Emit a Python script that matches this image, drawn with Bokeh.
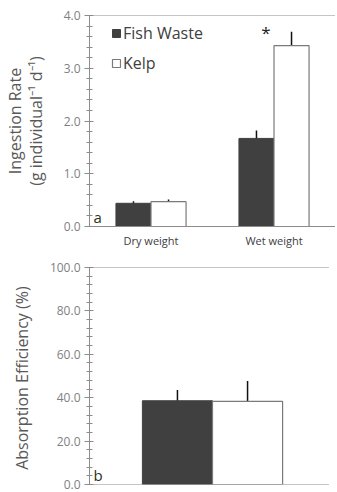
from bokeh.plotting import figure
from bokeh.models import (FactorRange, Range1d, ColumnDataSource, Whisker, Legend, LegendItem,
                          Span, Label, NumeralTickFormatter, SingleIntervalTicker)
from bokeh.transform import dodge
from bokeh.layouts import column
from bokeh.core.properties import value
from bokeh.embed import file_html
from bokeh.resources import INLINE

# ---- data ----
categories = ["Dry weight", "Wet weight"]
series_names = ["Fish Waste", "Kelp"]
ingestion_fish = [0.44, 1.67]
ingestion_fish_err = [0.04, 0.15]
ingestion_kelp = [0.47, 3.43]
ingestion_kelp_err = [0.04, 0.26]
star_category = ["Wet weight"]
star_y = [3.67]

absorption_category = ["All"]
absorption_fish = [38.6]
absorption_fish_err = [5.0]
absorption_kelp = [38.3]
absorption_kelp_err = [9.4]

FONT = "Open Sans"
DARK = "#404040"
AXIS = "#8c8c8c"
TICKLAB = "#7f7f7f"
LABEL = "#595959"
BW = 0.285
OFF = 0.1425


def style_y(p, label, interval):
    ax = p.yaxis[0]
    ax.ticker = SingleIntervalTicker(interval=interval, num_minor_ticks=5)
    ax.formatter = NumeralTickFormatter(format="0.0")
    ax.axis_line_color = AXIS
    ax.major_tick_line_color = AXIS
    ax.minor_tick_line_color = AXIS
    ax.major_tick_in = 4
    ax.major_tick_out = 5
    ax.minor_tick_in = 3
    ax.minor_tick_out = 3
    ax.major_label_text_font = FONT
    ax.major_label_text_font_size = "12px"
    ax.major_label_text_color = TICKLAB
    ax.major_label_standoff = 4
    ax.axis_label = label
    ax.axis_label_text_font = FONT
    ax.axis_label_text_font_size = "16px"
    ax.axis_label_text_line_height = 0.95
    ax.axis_label_text_font_style = "normal"
    ax.axis_label_text_color = LABEL
    ax.axis_label_standoff = 14


def base_fig(x_factors, y_end, fh, top, bottom):
    p = figure(frame_width=246, frame_height=fh, x_range=FactorRange(*x_factors),
               y_range=Range1d(0, y_end), output_backend="svg", toolbar_location=None,
               min_border_left=83, min_border_right=0, min_border_top=top,
               min_border_bottom=bottom)
    p.outline_line_color = None
    p.xgrid.visible = False
    p.ygrid.visible = False
    p.add_layout(Span(location=y_end, dimension="width", line_color=AXIS, line_width=1))
    return p


def add_bars(p, cats, fish, fish_err, kelp, kelp_err):
    src = ColumnDataSource(dict(
        cat=cats, fish=fish, kelp=kelp,
        fish_lo=[v - e for v, e in zip(fish, fish_err)],
        fish_hi=[v + e for v, e in zip(fish, fish_err)],
        kelp_lo=[v - e for v, e in zip(kelp, kelp_err)],
        kelp_hi=[v + e for v, e in zip(kelp, kelp_err)],
    ))
    r1 = p.vbar(x=dodge("cat", -OFF, range=p.x_range), top="fish", width=BW, source=src,
                fill_color=DARK, line_color=DARK)
    r2 = p.vbar(x=dodge("cat", OFF, range=p.x_range), top="kelp", width=BW, source=src,
                fill_color="white", line_color="#7a7a7a", line_width=1.2)
    for off, lo, hi in ((-OFF, "fish_lo", "fish_hi"), (OFF, "kelp_lo", "kelp_hi")):
        w = Whisker(base=dodge("cat", off, range=p.x_range), lower=lo, upper=hi, source=src,
                    line_color="#111111", line_width=1.5, upper_head=None, lower_head=None)
        p.add_layout(w)
    return r1, r2


# ---- panel a ----
p1 = base_fig(categories, 4.0, 211, 15, 33)
r1, r2 = add_bars(p1, categories, ingestion_fish, ingestion_fish_err,
                  ingestion_kelp, ingestion_kelp_err)
style_y(p1, "Ingestion Rate\n(g individual\u207b\u00b9 d\u207b\u00b9)", 1.0)
xa = p1.xaxis[0]
xa.axis_line_color = AXIS
xa.major_tick_line_color = None
xa.minor_tick_line_color = None
xa.major_tick_out = 0
xa.major_tick_in = 0
xa.major_label_text_font = FONT
xa.major_label_text_font_size = "11px"
xa.major_label_text_color = "#404040"
xa.major_label_standoff = 6

p1.text(x=dodge("cat", -0.065, range=p1.x_range), y="y",
        source=ColumnDataSource(dict(cat=star_category, y=star_y)),
        text=value("*"), text_font=value(FONT), text_font_size="17px",
        text_color="#222222", text_align="center", text_baseline="middle")

legend = Legend(items=[LegendItem(label=series_names[0], renderers=[r1]),
                       LegendItem(label=series_names[1], renderers=[r2])],
                location=(22, 152), orientation="vertical")
legend.background_fill_alpha = 0
legend.border_line_color = None
legend.padding = 0
legend.margin = 0
legend.spacing = 8
legend.glyph_width = 10
legend.glyph_height = 10
legend.label_height = 10
legend.label_standoff = 2
legend.label_text_font = FONT
legend.label_text_font_size = "16px"
legend.label_text_color = "#404040"
p1.add_layout(legend, "center")

p1.add_layout(Label(x=4, y=0, x_units="screen", text="a", text_font=FONT,
                    text_font_size="15px", text_color="#2b3320", text_baseline="bottom"))

# ---- panel b ----
p2 = base_fig(absorption_category, 100.0, 217, 8, 8)
add_bars(p2, absorption_category, absorption_fish, absorption_fish_err,
         absorption_kelp, absorption_kelp_err)
style_y(p2, "Absorption Efficiency  (%)", 20.0)
p2.xaxis.visible = False
p2.add_layout(Span(location=0, dimension="width", line_color=AXIS, line_width=1))
p2.add_layout(Label(x=4, y=0, x_units="screen", text="b", text_font=FONT,
                    text_font_size="15px", text_color="#2b3320", text_baseline="bottom"))

layout = column(p1, p2, spacing=0)
open("out.html", "w").write(file_html(layout, INLINE))
